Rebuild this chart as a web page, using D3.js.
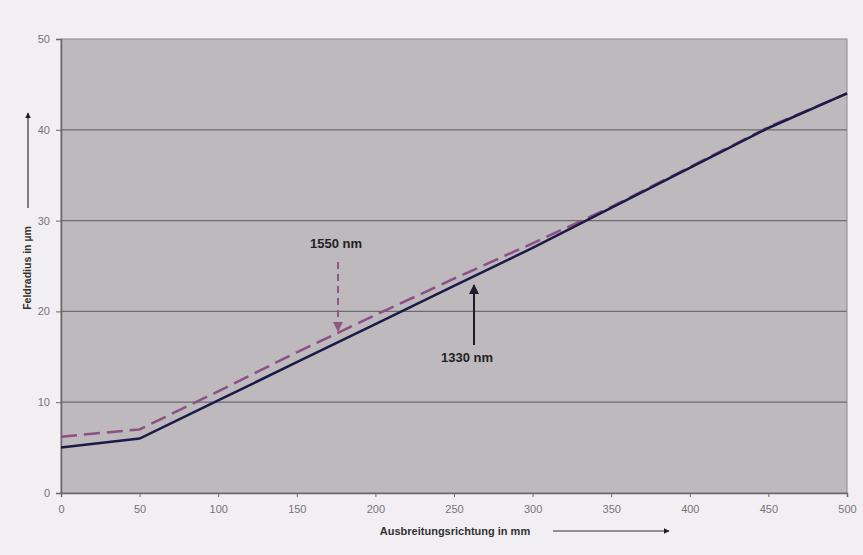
<!DOCTYPE html>
<html>
<head>
<meta charset="utf-8">
<script src="https://cdn.jsdelivr.net/npm/d3@7"></script>
<style>
	body { margin: 0; background: #f1eff1; }
	svg { display: block; }
</style>
</head>
<body>
<div id="chart"></div>
<script>
// Feldradius along the propagation direction, two wavelengths
var distances = [0, 50, 100, 150, 200, 250, 300, 350, 400, 450, 500];
var radius1330 = [5, 6, 10.2, 14.4, 18.6, 22.8, 27, 31.4, 35.8, 40.2, 44];
var radius1550 = [6.2, 7, 11.2, 15.5, 19.6, 23.6, 27.5, 31.5, 35.9, 40.3, 44];
var xTicks = [0, 50, 100, 150, 200, 250, 300, 350, 400, 450, 500];
var yTicks = [0, 10, 20, 30, 40, 50];

var w = 863, h = 555;
var margin = {top: 39, right: 16, bottom: 62, left: 61};

var svg = d3.select("#chart")
	.append("svg")
	.attr("width", w)
	.attr("height", h);

var defs = svg.append("defs");
defs.append("marker")
	.attr("id", "head_dark")
	.attr("viewBox", "0 0 10 10")
	.attr("refX", 9).attr("refY", 5)
	.attr("markerWidth", 5).attr("markerHeight", 5)
	.attr("orient", "auto")
	.append("path").attr("d", "M0,0L10,5L0,10z").attr("fill", "#1c1c2a");
defs.append("marker")
	.attr("id", "head_purple")
	.attr("viewBox", "0 0 10 10")
	.attr("refX", 9).attr("refY", 5)
	.attr("markerWidth", 5).attr("markerHeight", 5)
	.attr("orient", "auto")
	.append("path").attr("d", "M0,0L10,5L0,10z").attr("fill", "#8a5a80");

var x = d3.scaleLinear().domain([0, 500]).range([margin.left, w - margin.right]);
var y = d3.scaleLinear().domain([0, 50]).range([h - margin.bottom, margin.top]);

// plot background
svg.append("rect")
	.attr("x", x(0))
	.attr("y", y(50))
	.attr("width", x(500) - x(0))
	.attr("height", y(0) - y(50))
	.attr("fill", "#bdb9bc");

// gridlines
svg.append("g")
	.selectAll("line")
	.data(yTicks.slice(1, -1))
	.enter()
	.append("line")
	.attr("x1", x(0))
	.attr("x2", x(500))
	.attr("y1", function(d){ return y(d); })
	.attr("y2", function(d){ return y(d); })
	.attr("stroke", "#6e6a70")
	.attr("stroke-width", 1.2);

// border
svg.append("rect")
	.attr("x", x(0))
	.attr("y", y(50))
	.attr("width", x(500) - x(0))
	.attr("height", y(0) - y(50))
	.attr("fill", "none")
	.attr("stroke", "#8a878a")
	.attr("stroke-width", 1);

// axes
var xAxis = svg.append("g")
	.attr("transform", "translate(0," + y(0) + ")")
	.call(d3.axisBottom(x).tickValues(xTicks).tickSize(4).tickPadding(8));
var yAxis = svg.append("g")
	.attr("transform", "translate(" + x(0) + ",0)")
	.call(d3.axisLeft(y).tickValues(yTicks).tickSize(5).tickPadding(6));

[xAxis, yAxis].forEach(function(a){
	a.select(".domain").attr("stroke", "#6a676a").attr("stroke-width", 1.5);
	a.selectAll(".tick line").attr("stroke", "#6a676a");
	a.selectAll(".tick text")
		.attr("fill", "#777477")
		.attr("font-size", "11px")
		.attr("font-family", "Liberation Sans, Arial, sans-serif");
});

// lines
var lineGen = d3.line()
	.x(function(d, i){ return x(distances[i]); })
	.y(function(d){ return y(d); });

svg.append("path")
	.datum(radius1550)
	.attr("d", lineGen)
	.attr("fill", "none")
	.attr("stroke", "#8c4f86")
	.attr("stroke-width", 2.5)
	.attr("stroke-dasharray", "16,7");

svg.append("path")
	.datum(radius1330)
	.attr("d", lineGen)
	.attr("fill", "none")
	.attr("stroke", "#1b1a48")
	.attr("stroke-width", 2.5);

// annotations
var font = "Liberation Sans, Arial, sans-serif";
svg.append("text")
	.text("1550 nm")
	.attr("x", 336).attr("y", 248)
	.attr("text-anchor", "middle")
	.attr("font-size", "13px")
	.attr("font-weight", "bold")
	.attr("font-family", font)
	.attr("fill", "#222222");
svg.append("line")
	.attr("x1", 338).attr("y1", 262)
	.attr("x2", 338).attr("y2", 331)
	.attr("stroke", "#8a5a80")
	.attr("stroke-width", 2)
	.attr("stroke-dasharray", "7,5")
	.attr("marker-end", "url(#head_purple)");

svg.append("text")
	.text("1330 nm")
	.attr("x", 467).attr("y", 362)
	.attr("text-anchor", "middle")
	.attr("font-size", "13px")
	.attr("font-weight", "bold")
	.attr("font-family", font)
	.attr("fill", "#222222");
svg.append("line")
	.attr("x1", 474).attr("y1", 345)
	.attr("x2", 474).attr("y2", 285)
	.attr("stroke", "#1c1c2a")
	.attr("stroke-width", 2)
	.attr("marker-end", "url(#head_dark)");

// axis titles with arrows
svg.append("text")
	.text("Ausbreitungsrichtung in mm")
	.attr("x", 455).attr("y", 535)
	.attr("text-anchor", "middle")
	.attr("font-size", "11px")
	.attr("font-weight", "bold")
	.attr("font-family", font)
	.attr("fill", "#333333");
svg.append("line")
	.attr("x1", 553).attr("y1", 531)
	.attr("x2", 669).attr("y2", 531)
	.attr("stroke", "#333333")
	.attr("stroke-width", 1.2)
	.attr("marker-end", "url(#head_dark)");

svg.append("text")
	.text("Feldradius in µm")
	.attr("transform", "translate(31,268) rotate(-90)")
	.attr("text-anchor", "middle")
	.attr("font-size", "10.5px")
	.attr("font-weight", "bold")
	.attr("font-family", font)
	.attr("fill", "#333333");
svg.append("line")
	.attr("x1", 28).attr("y1", 208)
	.attr("x2", 28).attr("y2", 113)
	.attr("stroke", "#333333")
	.attr("stroke-width", 1.2)
	.attr("marker-end", "url(#head_dark)");
</script>
</body>
</html>
